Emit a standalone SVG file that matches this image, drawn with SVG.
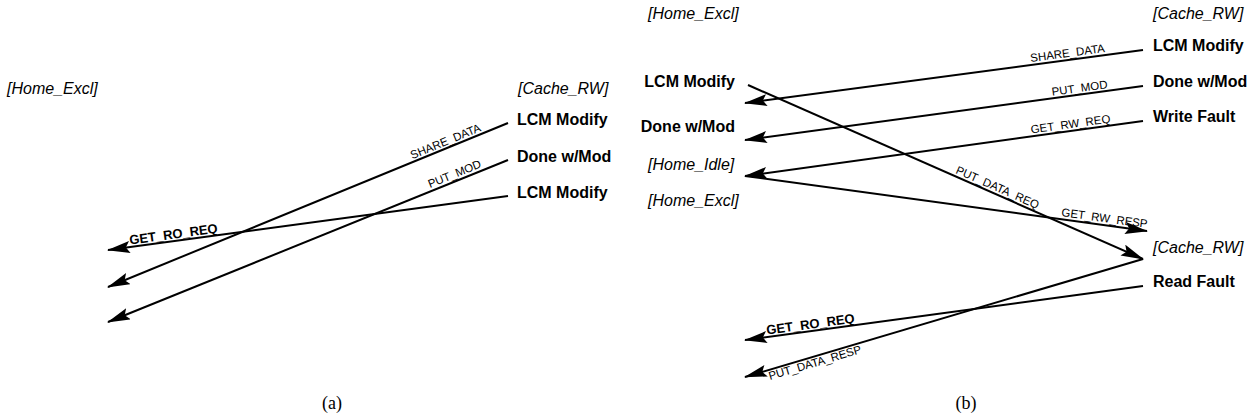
<svg xmlns="http://www.w3.org/2000/svg" width="1253" height="418" viewBox="0 0 1253 418">
<style>
.st{font-family:"Liberation Sans",Arial,sans-serif;font-size:16px;font-style:italic;fill:#000}
.ev{font-family:"Liberation Sans",Arial,sans-serif;font-size:16px;font-weight:bold;fill:#000}
.lb{font-family:"Liberation Sans",Arial,sans-serif;font-size:11.5px;fill:#000}
.lbb{font-family:"Liberation Sans",Arial,sans-serif;font-size:13px;font-weight:bold;fill:#000}
.cap{font-family:"Liberation Serif","Times New Roman",serif;font-size:18px;fill:#000}
.ln{stroke:#000;stroke-width:2;fill:none;marker-end:url(#ah)}
</style>
<defs>
<marker id="ah" markerUnits="userSpaceOnUse" viewBox="0 0 23 12" markerWidth="23" markerHeight="12" refX="22" refY="6" orient="auto">
<path d="M0,0 L23,6 L0,12 L4,6 z" fill="#000"/>
</marker>
</defs>
<rect width="1253" height="418" fill="#fff"/>

<!-- Panel (a) -->
<g id="a-home-excl"><text class="st" x="7" y="94">[Home_Excl]</text></g>
<g id="a-cache-rw"><text class="st" x="518" y="94">[Cache_RW]</text></g>
<g id="a-lcm1"><text class="ev" x="517" y="124.5">LCM Modify</text></g>
<g id="a-done"><text class="ev" x="517" y="161.5">Done w/Mod</text></g>
<g id="a-lcm2"><text class="ev" x="517" y="197.5">LCM Modify</text></g>

<g id="a-connectors">
<line class="ln" x1="508" y1="123" x2="108" y2="287"/>
<line class="ln" x1="508" y1="160" x2="108" y2="322"/>
<line class="ln" x1="508" y1="196" x2="108" y2="250"/>
<text class="lb" text-anchor="middle" transform="translate(447,145) rotate(-22.3)">SHARE_DATA</text>
<text class="lb" text-anchor="middle" transform="translate(456,177.5) rotate(-22)">PUT_MOD</text>
<text class="lbb" transform="translate(130,244.5) rotate(-7.7)">GET_RO_REQ</text>
</g>
<g id="cap-a"><text class="cap" x="332" y="409" text-anchor="middle">(a)</text></g>

<!-- Panel (b) -->
<g id="b-home-excl-top"><text class="st" x="648" y="19">[Home_Excl]</text></g>
<g id="b-cache-rw-top"><text class="st" x="1153" y="19">[Cache_RW]</text></g>
<g id="b-r-lcm"><text class="ev" x="1153" y="51">LCM Modify</text></g>
<g id="b-r-done"><text class="ev" x="1153" y="87">Done w/Mod</text></g>
<g id="b-r-write"><text class="ev" x="1153" y="122">Write Fault</text></g>
<g id="b-l-lcm"><text class="ev" x="735" y="86.5" text-anchor="end">LCM Modify</text></g>
<g id="b-l-done"><text class="ev" x="735" y="131.5" text-anchor="end">Done w/Mod</text></g>
<g id="b-home-idle"><text class="st" x="648" y="170">[Home_Idle]</text></g>
<g id="b-home-excl"><text class="st" x="648" y="205.5">[Home_Excl]</text></g>
<g id="b-cache-rw"><text class="st" x="1153" y="253">[Cache_RW]</text></g>
<g id="b-read"><text class="ev" x="1153" y="287">Read Fault</text></g>

<g id="b-connectors">
<line class="ln" x1="1143" y1="50" x2="745" y2="103"/>
<line class="ln" x1="1143" y1="86" x2="745" y2="140"/>
<line class="ln" x1="1143" y1="121" x2="745" y2="176"/>
<line class="ln" x1="745" y1="176" x2="1147" y2="231"/>
<line class="ln" x1="748" y1="85" x2="1143" y2="259"/>
<line class="ln" x1="1143" y1="259" x2="745" y2="377"/>
<line class="ln" x1="1143" y1="286" x2="745" y2="340"/>
<text class="lb" text-anchor="middle" transform="translate(1068,57) rotate(-7.6)">SHARE_DATA</text>
<text class="lb" text-anchor="middle" transform="translate(1080,92) rotate(-7.7)">PUT_MOD</text>
<text class="lb" text-anchor="middle" transform="translate(1071,128) rotate(-7.9)">GET_RW_REQ</text>
<text class="lb" text-anchor="middle" transform="translate(1104,222) rotate(7.8)">GET_RW_RESP</text>
<text class="lb" text-anchor="middle" transform="translate(996,191) rotate(23.8)">PUT_DATA_REQ</text>
<text class="lb" text-anchor="middle" transform="translate(816,366.4) rotate(-16.5)">PUT_DATA_RESP</text>
<text class="lbb" transform="translate(767,334.5) rotate(-7.7)">GET_RO_REQ</text>
</g>
<g id="cap-b"><text class="cap" x="966" y="409" text-anchor="middle">(b)</text></g>
</svg>
